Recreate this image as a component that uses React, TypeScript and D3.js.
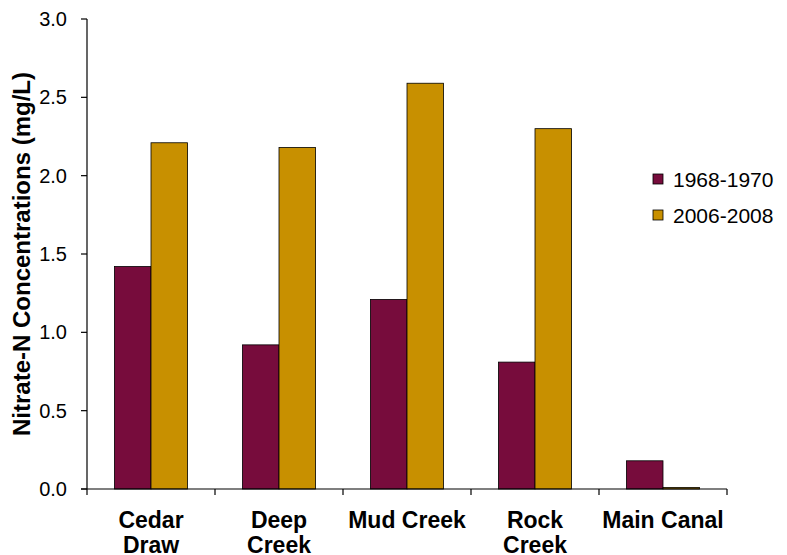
import React from "react";
import * as d3 from "d3";

const categories = [["Cedar", "Draw"], ["Deep", "Creek"], ["Mud Creek"], ["Rock", "Creek"], ["Main Canal"]];
const seriesNames = ["1968-1970", "2006-2008"];
const series1968 = [1.42, 0.92, 1.21, 0.81, 0.18];
const series2006 = [2.21, 2.18, 2.59, 2.3, 0.01];
const yTicks = [0, 0.5, 1.0, 1.5, 2.0, 2.5, 3.0];
const colors = ["#770C3C", "#C89000"];

export default function App() {
  const W = 787, H = 555;
  const left = 87, right = 727, top = 19, bottom = 489;
  const x = d3.scaleBand<number>().domain(d3.range(categories.length)).range([left, right]).paddingInner(0).paddingOuter(0);
  const y = d3.scaleLinear().domain([0, 3]).range([bottom, top]);
  const bw = x.bandwidth() / 3.5;
  const data = [series1968, series2006];
  const font = "'Liberation Sans', Arial, sans-serif";
  return (
    <svg width={W} height={H} style={{ position: "absolute", left: 0, top: 0 }} fontFamily={font}>
      <rect width={W} height={H} fill="#fff" />
      {data.map((s, si) =>
        s.map((v, i) => (
          <rect key={`${si}-${i}`} x={(x(i) as number) + bw * 0.75 + si * bw} y={y(v)} width={bw} height={bottom - y(v)}
            fill={colors[si]} stroke="#000" strokeWidth={0.8} />
        ))
      )}
      <line x1={left} x2={left} y1={top} y2={bottom} stroke="#000" strokeWidth={1.2} />
      <line x1={left - 6} x2={right} y1={bottom} y2={bottom} stroke="#000" strokeWidth={1.2} />
      {yTicks.map((t) => (
        <g key={t}>
          <line x1={left - 6} x2={left} y1={y(t)} y2={y(t)} stroke="#000" strokeWidth={1.2} />
          <text x={67} y={y(t) + 7} textAnchor="end" fontSize={20} fill="#000">{t.toFixed(1)}</text>
        </g>
      ))}
      {d3.range(categories.length + 1).map((i) => {
        const xx = left + i * x.bandwidth();
        return <line key={i} x1={xx} x2={xx} y1={bottom} y2={bottom + 6} stroke="#000" strokeWidth={1.2} />;
      })}
      {categories.map((c, i) => (
        <text key={i} textAnchor="middle" fontSize={23} fontWeight="bold" fill="#000">
          {c.map((line, li) => (
            <tspan key={li} x={(x(i) as number) + x.bandwidth() / 2} y={528 + li * 25}>{line}</tspan>
          ))}
        </text>
      ))}
      <text transform={`translate(30,${(top + bottom) / 2}) rotate(-90)`} textAnchor="middle" fontSize={24} fontWeight="bold" fill="#000">
        Nitrate-N Concentrations (mg/L)
      </text>
      {seriesNames.map((n, i) => (
        <g key={n}>
          <rect x={653} y={174 + i * 36} width={10} height={10} fill={colors[i]} stroke="#000" strokeWidth={0.8} />
          <text x={673} y={187 + i * 36} fontSize={21} fill="#000">{n}</text>
        </g>
      ))}
    </svg>
  );
}
